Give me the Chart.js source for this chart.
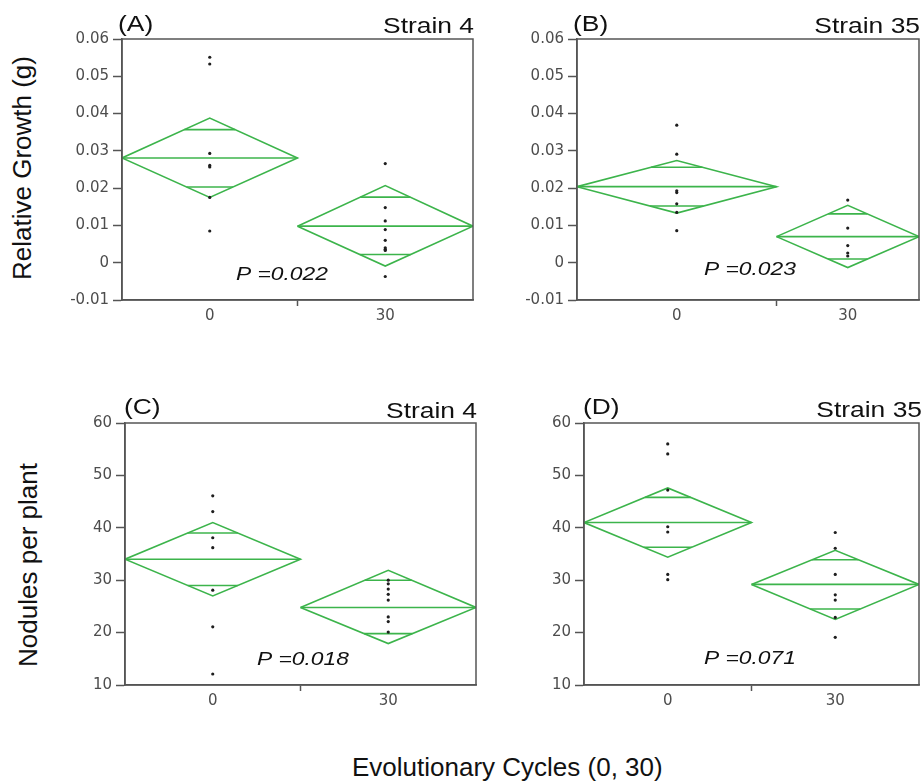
<!DOCTYPE html>
<html>
<head>
<meta charset="utf-8">
<script src="https://cdn.jsdelivr.net/npm/chart.js@4.4.1/dist/chart.umd.min.js"></script>
<style>
  html, body { margin: 0; padding: 0; background: #fff; }
  #page { position: relative; width: 923px; height: 782px; overflow: hidden;
          font-family: "Liberation Sans", Arial, sans-serif; color: #111; }
  canvas { position: absolute; }
  .ytitle { position: absolute; font-size: 26px; line-height: 1; white-space: nowrap;
            transform: translate(-50%, -50%) rotate(-90deg); }
  .xtitle { position: absolute; font-size: 26px; line-height: 1; white-space: nowrap; }
</style>
</head>
<body>
<div id="page">
  <canvas id="panelA" width="420" height="330" style="left:60px;top:0px"></canvas>
  <canvas id="panelB" width="403" height="330" style="left:520px;top:0px"></canvas>
  <canvas id="panelC" width="420" height="330" style="left:60px;top:390px"></canvas>
  <canvas id="panelD" width="403" height="330" style="left:520px;top:390px"></canvas>
  <div class="ytitle" style="left:21.5px;top:167.5px">Relative Growth (g)</div>
  <div class="ytitle" style="left:28px;top:565px">Nodules per plant</div>
  <div class="xtitle" style="left:352px;top:754px">Evolutionary Cycles (0, 30)</div>
</div>
<script>
const cycles = ['0', '30'];
const growthTicks = [-0.01, 0, 0.01, 0.02, 0.03, 0.04, 0.05, 0.06];
const noduleTicks = [10, 20, 30, 40, 50, 60];

// (A) relative growth, strain 4
const growthS4Obs0 = [0.0551, 0.0533, 0.0293, 0.0261, 0.0257, 0.0175, 0.0085];
const growthS4Obs30 = [0.0266, 0.0148, 0.0112, 0.0089, 0.0060, 0.0040, 0.0036, 0.0033, -0.0037];
const growthS4Means = [0.0281, 0.0098];
const growthS4Upper = [0.0388, 0.0207];
const growthS4Lower = [0.0175, -0.0009];
const growthS4OverlapHi = [0.0357, 0.0176];
const growthS4OverlapLo = [0.0203, 0.0022];
const growthS4Widths = [1, 1];

// (B) relative growth, strain 35
const growthS35Obs0 = [0.0369, 0.0291, 0.0193, 0.0188, 0.0158, 0.0135, 0.0086];
const growthS35Obs30 = [0.0168, 0.0093, 0.0046, 0.0026, 0.0018];
const growthS35Means = [0.0204, 0.0070];
const growthS35Upper = [0.0274, 0.0154];
const growthS35Lower = [0.0133, -0.0013];
const growthS35OverlapHi = [0.0256, 0.0131];
const growthS35OverlapLo = [0.0152, 0.0010];
const growthS35Widths = [7, 5];

// (C) nodules, strain 4
const nodS4Obs0 = [46.1, 43.1, 38.1, 36.2, 28.1, 21.1, 12.1];
const nodS4Obs30 = [30.0, 29.3, 28.3, 27.3, 26.2, 23.0, 22.1, 20.1];
const nodS4Means = [34.0, 24.8];
const nodS4Upper = [41.0, 31.9];
const nodS4Lower = [27.0, 17.9];
const nodS4OverlapHi = [39.0, 30.0];
const nodS4OverlapLo = [29.0, 19.8];
const nodS4Widths = [1, 1];

// (D) nodules, strain 35
const nodS35Obs0 = [56.0, 54.1, 47.2, 40.2, 39.2, 31.1, 30.1];
const nodS35Obs30 = [39.1, 36.1, 31.1, 27.2, 26.2, 22.9, 19.1];
const nodS35Means = [41.0, 29.2];
const nodS35Upper = [47.6, 35.7];
const nodS35Lower = [34.4, 22.5];
const nodS35OverlapHi = [45.8, 33.9];
const nodS35OverlapLo = [36.3, 24.5];
const nodS35Widths = [1, 1];

const pValues = ['0.022', '0.023', '0.018', '0.071'];

const GREEN = '#3cb44b';
const AXIS = '#555';
const tickFont = { family: 'DejaVu Sans', size: 15 };

const panels = [
  { id: 'panelA', cv: { left: 60, top: 0, width: 420, height: 330 }, area: { left: 122, top: 39, right: 473, bottom: 300 },
    obs: [growthS4Obs0, growthS4Obs30], means: growthS4Means, upper: growthS4Upper, lower: growthS4Lower,
    hi: growthS4OverlapHi, lo: growthS4OverlapLo, widths: growthS4Widths, yTicks: growthTicks,
    label: '(A)', strain: 'Strain 4', p: pValues[0], labelAt: [118, 31], strainAt: [474, 33], pAt: [236, 280] },
  { id: 'panelB', cv: { left: 520, top: 0, width: 403, height: 330 }, area: { left: 577, top: 39, right: 922, bottom: 300 },
    obs: [growthS35Obs0, growthS35Obs30], means: growthS35Means, upper: growthS35Upper, lower: growthS35Lower,
    hi: growthS35OverlapHi, lo: growthS35OverlapLo, widths: growthS35Widths, yTicks: growthTicks,
    label: '(B)', strain: 'Strain 35', p: pValues[1], labelAt: [573, 31], strainAt: [920, 33], pAt: [704, 275] },
  { id: 'panelC', cv: { left: 60, top: 390, width: 420, height: 330 }, area: { left: 125, top: 423, right: 477, bottom: 685 },
    obs: [nodS4Obs0, nodS4Obs30], means: nodS4Means, upper: nodS4Upper, lower: nodS4Lower,
    hi: nodS4OverlapHi, lo: nodS4OverlapLo, widths: nodS4Widths, yTicks: noduleTicks,
    label: '(C)', strain: 'Strain 4', p: pValues[2], labelAt: [124, 414], strainAt: [477, 418], pAt: [257, 665] },
  { id: 'panelD', cv: { left: 520, top: 390, width: 403, height: 330 }, area: { left: 584, top: 423, right: 922, bottom: 685 },
    obs: [nodS35Obs0, nodS35Obs30], means: nodS35Means, upper: nodS35Upper, lower: nodS35Lower,
    hi: nodS35OverlapHi, lo: nodS35OverlapLo, widths: nodS35Widths, yTicks: noduleTicks,
    label: '(D)', strain: 'Strain 35', p: pValues[3], labelAt: [583, 414], strainAt: [922, 417], pAt: [704, 664] }
];

function seg(points) {
  return { type: 'line', data: points, borderColor: GREEN, borderWidth: 1.6, pointRadius: 0,
           fill: false, tension: 0, borderJoinStyle: 'miter', order: 1 };
}

function buildDatasets(p) {
  const out = [];
  const w0 = p.widths[0], w1 = p.widths[1];
  const bands = [[0, w0], [w0, w0 + w1]];
  bands.forEach(([a, b], g) => {
    const c = (a + b) / 2, half = (b - a) / 2;
    const m = p.means[g], up = p.upper[g], lo = p.lower[g];
    // half width of the diamond at level y
    const span = y => half * (1 - (y >= m ? (y - m) / (up - m) : (m - y) / (m - lo)));
    out.push({ type: 'scatter', data: p.obs[g].map(v => ({ x: c, y: v })), pointRadius: 1.6,
               pointBorderWidth: 0, backgroundColor: '#1e1e1e', order: 0 });
    out.push(seg([{ x: a, y: m }, { x: c, y: up }, { x: b, y: m }, { x: c, y: lo }, { x: a, y: m }]));
    out.push(seg([{ x: a, y: m }, { x: b, y: m }]));
    [p.hi[g], p.lo[g]].forEach(y => {
      const h = span(y);
      out.push(seg([{ x: c - h, y: y }, { x: c + h, y: y }]));
    });
  });
  return out;
}

const panelText = {
  id: 'panelText',
  afterDraw(chart, args, opts) {
    const { ctx, chartArea } = chart;
    const p = opts.panel;
    ctx.save();
    ctx.strokeStyle = AXIS;
    ctx.lineWidth = 1.5;
    ctx.strokeRect(chartArea.left, chartArea.top, chartArea.right - chartArea.left, chartArea.bottom - chartArea.top);
    ctx.fillStyle = '#111';
    const put = (txt, at, font, align) => {
      ctx.save();
      ctx.font = font;
      ctx.textAlign = align;
      ctx.textBaseline = 'alphabetic';
      ctx.translate(at[0] - p.cv.left, at[1] - p.cv.top);
      ctx.scale(1.2, 1);
      ctx.fillText(txt, 0, 0);
      ctx.restore();
    };
    put(p.label, p.labelAt, '22px "Liberation Sans", Arial, sans-serif', 'left');
    put(p.strain, p.strainAt, '22px "Liberation Sans", Arial, sans-serif', 'right');
    put('P =' + p.p, p.pAt, 'italic 19px "Liberation Sans", Arial, sans-serif', 'left');
    ctx.restore();
  }
};

panels.forEach(p => {
  const w0 = p.widths[0], w1 = p.widths[1];
  const yAxisWidth = p.area.left - p.cv.left;
  const xAxisHeight = 25;
  new Chart(document.getElementById(p.id), {
    type: 'scatter',
    data: { datasets: buildDatasets(p) },
    options: {
      responsive: false,
      animation: false,
      events: [],
      layout: { padding: {
        left: 0,
        top: p.area.top - p.cv.top,
        right: p.cv.left + p.cv.width - p.area.right,
        bottom: p.cv.top + p.cv.height - p.area.bottom - xAxisHeight } },
      plugins: { legend: { display: false }, tooltip: { enabled: false }, panelText: { panel: p } },
      scales: {
        x: {
          type: 'linear', min: 0, max: w0 + w1,
          afterBuildTicks: s => { s.ticks = [{ value: w0 / 2 }, { value: w0 }, { value: w0 + w1 / 2 }]; },
          afterFit: s => { s.height = xAxisHeight; },
          ticks: { autoSkip: false, maxRotation: 0, padding: 1, font: tickFont, color: '#4d4d4d',
                   callback: v => v === w0 / 2 ? cycles[0] : (v === w0 + w1 / 2 ? cycles[1] : '') },
          grid: { drawOnChartArea: false, tickLength: 6, tickWidth: 1.5,
                  tickColor: c => (c.tick && c.tick.value === w0) ? AXIS : 'rgba(0,0,0,0)' },
          border: { color: AXIS, width: 1.5 }
        },
        y: {
          type: 'linear', min: p.yTicks[0], max: p.yTicks[p.yTicks.length - 1],
          afterBuildTicks: s => { s.ticks = p.yTicks.map(v => ({ value: v })); },
          afterFit: s => { s.width = yAxisWidth; },
          ticks: { font: tickFont, color: '#4d4d4d', padding: 4, callback: v => String(v) },
          grid: { drawOnChartArea: false, tickLength: 9, tickWidth: 1.5, tickColor: AXIS },
          border: { color: AXIS, width: 1.5 }
        }
      }
    },
    plugins: [panelText]
  });
});
</script>
</body>
</html>
